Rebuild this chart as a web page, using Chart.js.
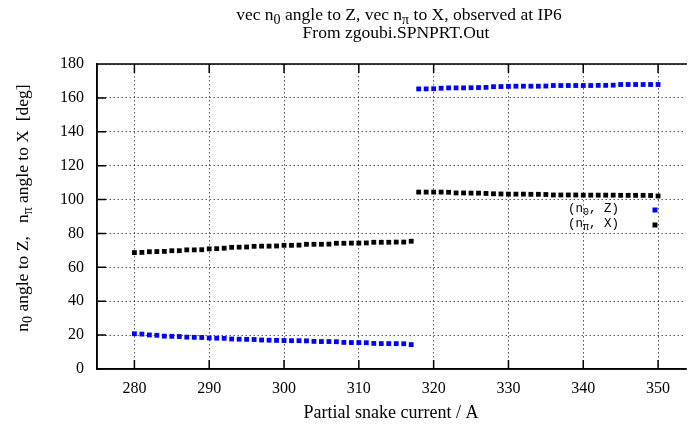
<!DOCTYPE html>
<html>
<head>
<meta charset="utf-8">
<script src="https://cdn.jsdelivr.net/npm/chart.js@4.4.1/dist/chart.umd.min.js"></script>
<style>
  html, body { margin: 0; padding: 0; background: #fff; }
  #wrap { width: 689px; height: 426px; }
</style>
</head>
<body>
<div id="wrap"><canvas id="myChart" width="689" height="426"></canvas></div>
<script>
// partial snake current, one point per amp
const currents = [
  280, 281, 282, 283, 284, 285, 286, 287, 288, 289,
  290, 291, 292, 293, 294, 295, 296, 297, 298, 299,
  300, 301, 302, 303, 304, 305, 306, 307, 308, 309,
  310, 311, 312, 313, 314, 315, 316, 317, 318, 319,
  320, 321, 322, 323, 324, 325, 326, 327, 328, 329,
  330, 331, 332, 333, 334, 335, 336, 337, 338, 339,
  340, 341, 342, 343, 344, 345, 346, 347, 348, 349,
  350
];

// (n0, Z) in blue
const n0AngleZ = [
  20.8, 20.6, 20.1, 19.9, 19.4, 19.3, 19.2, 18.8, 18.7, 18.6,
  18.3, 18.2, 18.1, 17.7, 17.6, 17.5, 17.4, 17.1, 17.0, 16.9,
  16.8, 16.7, 16.7, 16.6, 16.3, 16.2, 16.2, 16.1, 15.7, 15.6,
  15.6, 15.5, 15.1, 15.0, 15.0, 15.0, 14.9, 14.4, 165.3, 165.3,
  165.4, 165.7, 165.9, 165.9, 165.9, 166.0, 166.1, 166.2, 166.6, 166.7,
  166.8, 166.9, 166.9, 166.9, 166.9, 167.0, 167.3, 167.3, 167.3, 167.3,
  167.3, 167.3, 167.4, 167.4, 167.5, 167.9, 167.9, 167.9, 167.9, 167.9,
  167.9
];

// (npi, X) in black
const nPiAngleX = [
  68.7, 68.8, 69.2, 69.3, 69.4, 69.8, 69.8, 70.3, 70.3, 70.4,
  70.9, 71.0, 71.3, 71.8, 71.9, 72.0, 72.4, 72.5, 72.5, 72.6,
  73.0, 73.0, 73.1, 73.6, 73.6, 73.6, 73.7, 74.2, 74.2, 74.3,
  74.3, 74.4, 74.8, 74.8, 74.8, 74.9, 74.9, 75.4, 104.4, 104.4,
  104.4, 104.4, 104.3, 103.9, 103.9, 103.8, 103.8, 103.6, 103.4, 103.3,
  103.2, 103.2, 103.2, 103.1, 103.1, 103.0, 102.7, 102.7, 102.7, 102.7,
  102.6, 102.6, 102.6, 102.6, 102.6, 102.5, 102.5, 102.5, 102.5, 102.4,
  102.1
];

const xTickValues = [280, 290, 300, 310, 320, 330, 340, 350];
const yTickValues = [0, 20, 40, 60, 80, 100, 120, 140, 160, 180];

const serif = '"Liberation Serif", "Times New Roman", serif';
const mono = '"Liberation Mono", "DejaVu Sans Mono", monospace';

// draw text made of pieces, some of them subscripts
function richWidth(ctx, parts, size, family) {
  let w = 0;
  parts.forEach(p => {
    ctx.font = (p.sub ? size * 0.8 : size) + 'px ' + family;
    w += ctx.measureText(p.t).width;
  });
  return w;
}
function drawRich(ctx, parts, x, y, size, family) {
  let cx = x;
  parts.forEach(p => {
    ctx.font = (p.sub ? size * 0.8 : size) + 'px ' + family;
    ctx.fillText(p.t, cx, p.sub ? y + size * 0.3 : y);
    cx += ctx.measureText(p.t).width;
  });
}

const titleLine1 = [
  {t: 'vec n'}, {t: '0', sub: true}, {t: ' angle to Z, vec n'}, {t: 'π', sub: true},
  {t: ' to X, observed at IP6'}
];
const titleLine2 = [{t: 'From zgoubi.SPNPRT.Out'}];
const yTitle = [
  {t: 'n'}, {t: '0', sub: true}, {t: ' angle to Z,   n'}, {t: 'π', sub: true},
  {t: ' angle to X  [deg]'}
];
const legendRows = [
  {parts: [{t: '(n'}, {t: '0', sub: true}, {t: ', Z)'}], color: '#0000ff'},
  {parts: [{t: '(n'}, {t: 'π', sub: true}, {t: ', X)'}], color: '#000000'}
];

const gnuplotDecor = {
  id: 'gnuplotDecor',
  afterDraw(chart) {
    const ctx = chart.ctx;
    const a = chart.chartArea;
    const xs = chart.scales.x;
    const ys = chart.scales.y;
    ctx.save();
    ctx.fillStyle = '#000';
    ctx.textBaseline = 'middle';

    // titles
    const w1 = richWidth(ctx, titleLine1, 17.5, serif);
    drawRich(ctx, titleLine1, 399 - w1 / 2, 15, 17.5, serif);
    const w2 = richWidth(ctx, titleLine2, 17.5, serif);
    drawRich(ctx, titleLine2, 396 - w2 / 2, 33, 17.5, serif);

    ctx.save();
    ctx.translate(23, 208);
    ctx.rotate(-Math.PI / 2);
    const wy = richWidth(ctx, yTitle, 17.5, serif);
    drawRich(ctx, yTitle, -wy / 2, 0, 17.5, serif);
    ctx.restore();

    // legend
    legendRows.forEach((row, i) => {
      const ly = 210 + i * 15;
      const w = richWidth(ctx, row.parts, 12.5, mono);
      ctx.fillStyle = '#000';
      drawRich(ctx, row.parts, 619 - w, ly - 1, 12.5, mono);
      ctx.fillStyle = row.color;
      ctx.fillRect(652.5, ly - 2.5, 5, 5);
    });

    // frame + inward ticks
    ctx.strokeStyle = '#000';
    ctx.lineWidth = 1.5;
    ctx.beginPath();
    ctx.moveTo(a.right + 2, a.top);
    ctx.lineTo(a.left, a.top);
    ctx.lineTo(a.left, a.bottom);
    ctx.lineTo(a.right + 2, a.bottom);
    xTickValues.forEach(v => {
      const px = xs.getPixelForValue(v);
      ctx.moveTo(px, a.bottom);
      ctx.lineTo(px, a.bottom - 9);
      ctx.moveTo(px, a.top);
      ctx.lineTo(px, a.top + 9);
    });
    yTickValues.forEach(v => {
      const py = ys.getPixelForValue(v);
      ctx.moveTo(a.left, py);
      ctx.lineTo(a.left + 9, py);
    });
    ctx.stroke();
    ctx.restore();
  }
};

const gridStyle = {
  color: 'rgba(0,0,0,0.65)',
  lineWidth: 1,
  drawTicks: false
};

const ctx = document.getElementById('myChart');

const myChart = new Chart(ctx, {
  type: 'scatter',
  data: {
    datasets: [
      {
        label: '(n0, Z)',
        data: currents.map((c, i) => ({x: c, y: n0AngleZ[i]})),
        backgroundColor: '#0000ff',
        borderColor: '#0000ff',
        pointStyle: 'rect',
        pointRadius: 3.4,
        pointBorderWidth: 0
      },
      {
        label: '(npi, X)',
        data: currents.map((c, i) => ({x: c, y: nPiAngleX[i]})),
        backgroundColor: '#000000',
        borderColor: '#000000',
        pointStyle: 'rect',
        pointRadius: 3.4,
        pointBorderWidth: 0
      }
    ]
  },
  options: {
    responsive: false,
    animation: false,
    layout: { padding: { top: 64, left: 0, right: 0, bottom: 0 } },
    plugins: {
      legend: { display: false },
      title: { display: false },
      tooltip: { enabled: false }
    },
    scales: {
      x: {
        type: 'linear',
        min: 275,
        max: 353.6,
        afterBuildTicks: s => { s.ticks = xTickValues.map(v => ({value: v})); },
        afterFit: s => { s.height = 57; },
        grid: gridStyle,
        border: { display: true, color: '#000', width: 1.5, dash: [1.5, 2.5] },
        ticks: { color: '#000', padding: 10, font: { family: serif, size: 16 } },
        title: {
          display: true,
          text: 'Partial snake current / A',
          color: '#000',
          font: { family: serif, size: 18 },
          padding: { top: 0, bottom: 2 }
        }
      },
      y: {
        min: 0,
        max: 180,
        afterBuildTicks: s => { s.ticks = yTickValues.map(v => ({value: v})); },
        afterFit: s => { s.width = 97; },
        grid: gridStyle,
        border: { display: true, color: '#000', width: 1.5, dash: [1.5, 2.5] },
        ticks: { color: '#000', padding: 13, font: { family: serif, size: 16 } }
      }
    }
  },
  plugins: [gnuplotDecor]
});
</script>
</body>
</html>
